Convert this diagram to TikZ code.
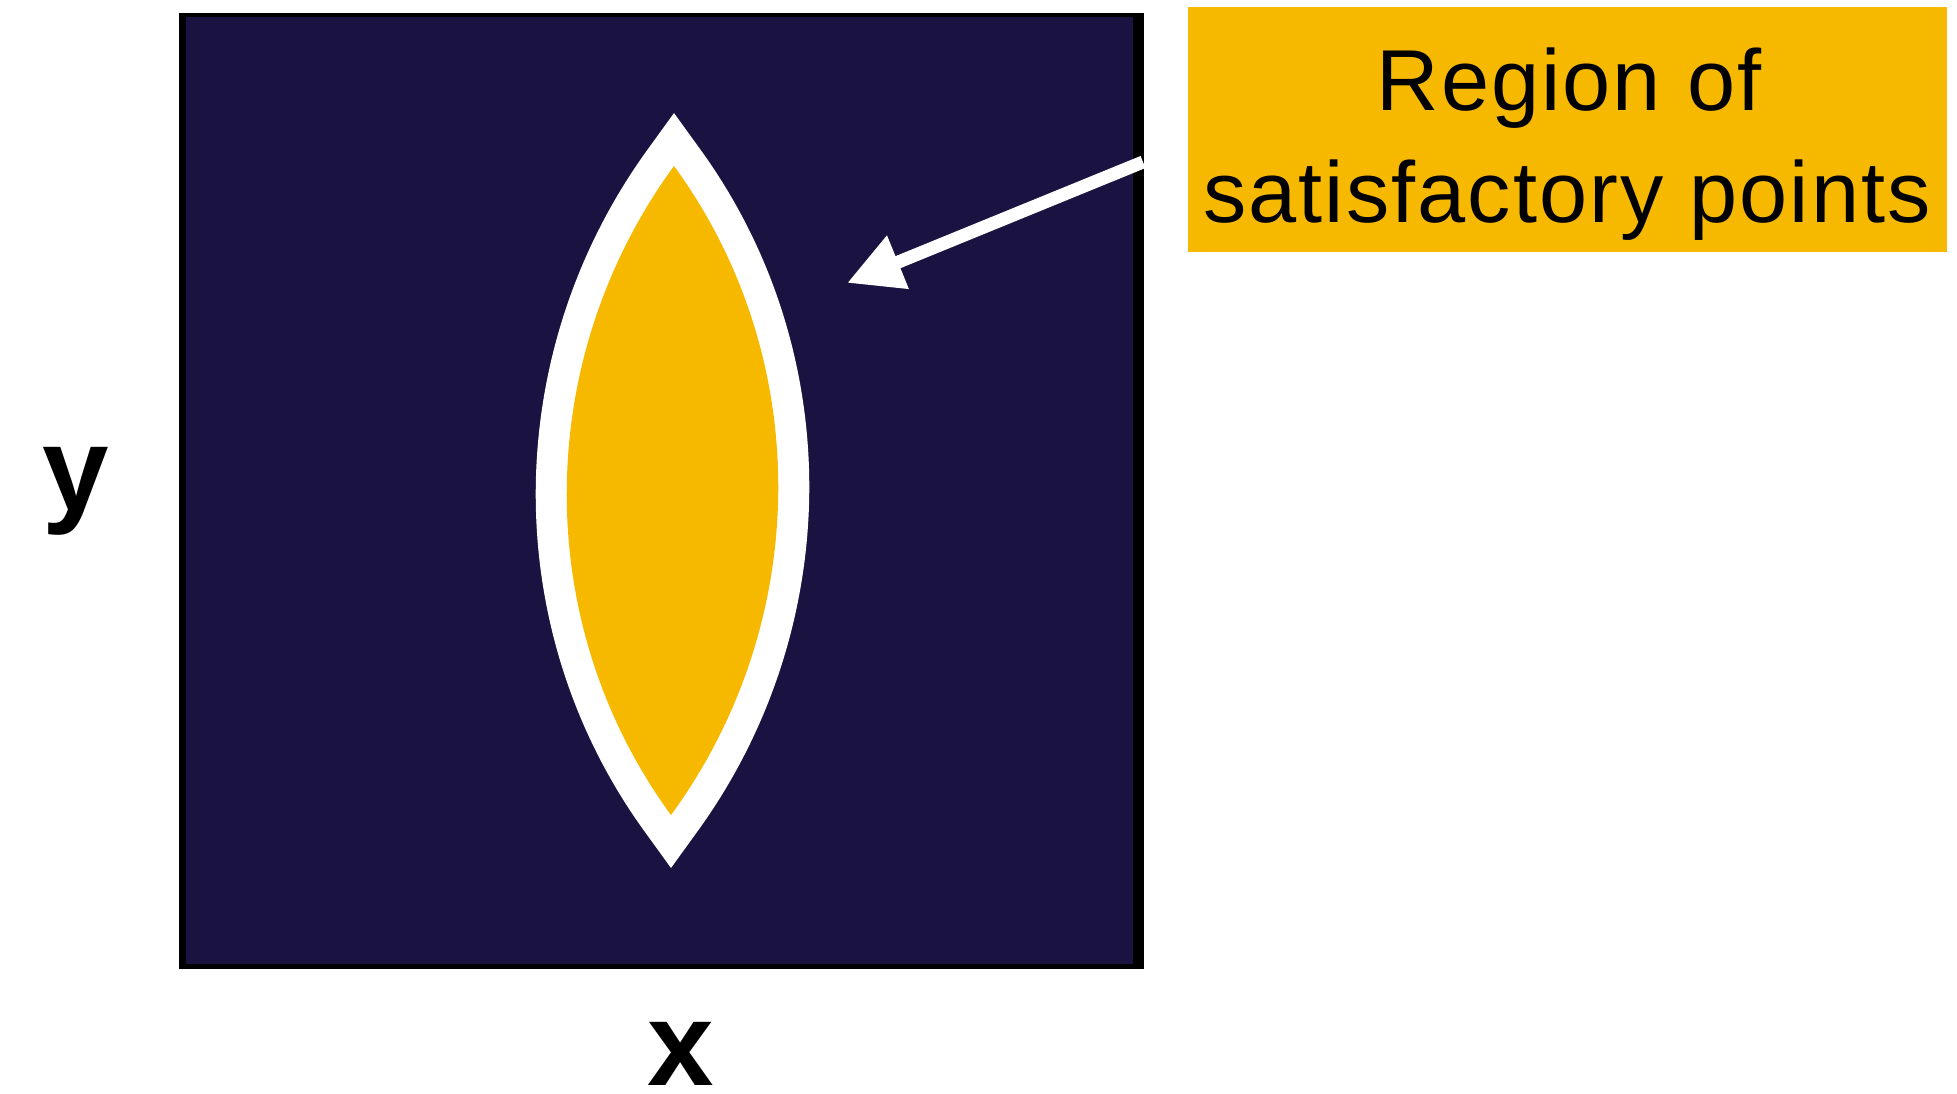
\documentclass[tikz,border=0pt]{standalone}
\usepackage{fontspec}
\setmainfont{Liberation Sans}
\usetikzlibrary{arrows.meta}

\definecolor{navy}{RGB}{26,19,65}
\definecolor{gold}{RGB}{247,185,0}

\tikzset{
  axislabel/.style={font=\fontsize{34}{40}\selectfont\bfseries, inner sep=0pt, anchor=base},
  labeltext/.style={font=\fontsize{24.6}{32}\selectfont\addfontfeatures{LetterSpace=2.4}, inner sep=0pt, anchor=base},
  labelbox/.style={fill=gold, draw=none, inner sep=0pt, minimum width=7.59cm, minimum height=2.45cm},
  lensrim/.style={draw=white, line width=0.62cm, line join=miter},
  lensfill/.style={fill=gold, draw=none},
  pointer/.style={draw=white, line width=0.13cm, line cap=butt,
    -{Triangle[length=0.55cm, width=0.54cm]}},
}

\begin{document}
\begin{tikzpicture}[x={(0.01cm,0)}, y={(0,-0.01cm)}]
  % canvas
  \useasboundingbox[fill=white] (0,0) rectangle (1957,1093);

  % the x-y domain: black frame with dark fill
  \fill[black] (179,13) rectangle (1144,969);
  \fill[navy] (186,17) rectangle (1133,964);

  % lens-shaped region with a white rim
  \coordinate (lenstop) at (674,166);
  \coordinate (lensbot) at (671,815);
  \path[lensrim] (lenstop) .. controls (533,359) and (530,622) .. (lensbot)
                 .. controls (812,622) and (815,359) .. (lenstop) -- cycle;
  \path[lensfill] (lenstop) .. controls (533,359) and (530,622) .. (lensbot)
                  .. controls (812,622) and (815,359) .. (lenstop) -- cycle;

  % callout box
  \node[labelbox] (label) at (1567.5,129.5) {};
  \node[labeltext] (labelA) at (1569,110) {Region of};
  \node[labeltext] (labelB) at (1567,222) {satisfactory points};

  % arrow from the frame edge toward the region
  \coordinate (arrowstart) at (1143,162);
  \coordinate (arrowtip) at (847,283);
  \draw[pointer] (arrowstart) -- (arrowtip);

  % axis labels
  \node[axislabel] (ylab) at (75.5,510) {y};
  \node[axislabel] (xlab) at (681,1085) {x};
\end{tikzpicture}
\end{document}
